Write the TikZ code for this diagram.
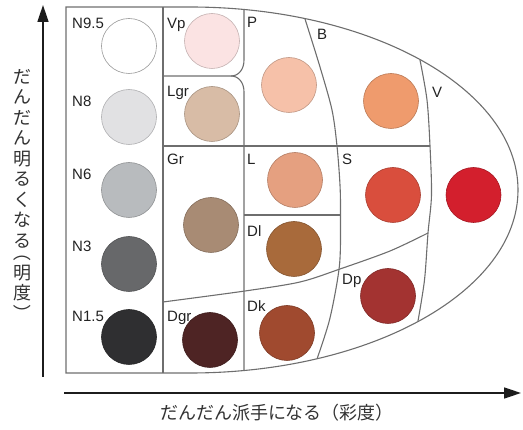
\documentclass[tikz,border=0pt]{standalone}
\usepackage{graphicx}
\usepackage{fontspec}
\setmainfont{Liberation Sans}
\newfontfamily\jp{Noto Sans CJK JP}
\usetikzlibrary{arrows.meta}
\definecolor{linegray}{HTML}{6E6E6E}
\definecolor{labgray}{HTML}{222222}
\definecolor{jpgray}{HTML}{333333}
\definecolor{arrowc}{HTML}{1C1C1C}
\definecolor{cNa}{HTML}{FFFFFF}
\definecolor{cNb}{HTML}{E1E1E3}
\definecolor{cNc}{HTML}{B8BBBE}
\definecolor{cNd}{HTML}{67686A}
\definecolor{cNe}{HTML}{2F2F31}
\definecolor{cVp}{HTML}{FBE3E3}
\definecolor{cLgr}{HTML}{D8BCA6}
\definecolor{cGr}{HTML}{A88B74}
\definecolor{cDgr}{HTML}{4E2424}
\definecolor{cP}{HTML}{F6C1A9}
\definecolor{cL}{HTML}{E5A080}
\definecolor{cDl}{HTML}{A86A3B}
\definecolor{cDk}{HTML}{A04A2F}
\definecolor{cB}{HTML}{EF9B6D}
\definecolor{cS}{HTML}{D94E3D}
\definecolor{cV}{HTML}{D31F2D}
\definecolor{cDp}{HTML}{A33331}
\newcommand{\vparen}[1]{\rotatebox[origin=c]{-90}{#1}}
\begin{document}
\begin{tikzpicture}[x=1pt,y=-1pt,
  box/.style={draw=linegray, line width=1.1pt},
  dot/.style={circle, minimum size=55pt, inner sep=0pt, fill=#1, draw=#1!78!black, line width=0.6pt},
  lab/.style={anchor=base west, inner sep=0pt, text=labgray, font=\fontsize{15}{15}\selectfont},
  axis/.style={draw=arrowc, line width=1.7pt, -{Triangle[length=17pt,width=11pt]}},
  jptext/.style={inner sep=0pt, text=jpgray, font=\jp\fontsize{18}{20.5}\selectfont}]
\useasboundingbox (0,0) rectangle (523,430);

% key coordinates
\coordinate (TL) at (66,7);
\coordinate (TC) at (190,7);
\coordinate (BL) at (66,373);
\coordinate (NcT) at (163,7);
\coordinate (NcB) at (163,373);
\coordinate (GcT) at (244,9.5);
\coordinate (GcB) at (244,370.5);
\coordinate (Btop) at (304.9,18.6);
\coordinate (Bbot) at (317.1,358.7);
\coordinate (Vtop) at (419.9,59.5);
\coordinate (Vbot) at (417.9,321.6);
\coordinate (Hend) at (430,146);
\coordinate (LDend) at (340.5,215);
\coordinate (Dend) at (428,233);

% outer shape
\draw[box] (TL) -- (TC) arc[start angle=-90, end angle=90, x radius=328, y radius=183] -- (BL) -- cycle;

% N column
\draw[box] (NcT) -- (NcB);
% Vp / Lgr / Gr column with notch
\draw[box] (GcT) -- (244,60) .. controls (244,69) and (239,76) .. (231,76) -- (163,76);
\draw[box] (231,76) .. controls (239,76) and (244,83) .. (244,92) -- (GcB);
% horizontal at Gr/L/S top
\draw[box] (163,146) -- (Hend);
% B curve
\draw[box] plot[smooth] coordinates {(Btop) (320,67) (332,110) (337,146) (340,185) (LDend) (339.5,265) (330,318) (Bbot)};
% V curve
\draw[box] plot[smooth] coordinates {(Vtop) (427,100) (Hend) (431.5,195) (Dend) (424.5,280) (Vbot)};
% L / Dl separator
\draw[box] (244,215) -- (LDend);
% dark curve
\draw[box] plot[smooth] coordinates {(163,302) (245,291) (300,282) (340,269) (390,251) (Dend)};

% circles
\node[dot=cNa, draw=black!40] (n95) at (129,46) {};
\node[dot=cNb] (n8) at (129,117) {};
\node[dot=cNc] (n6) at (129,190) {};
\node[dot=cNd] (n3) at (129,264) {};
\node[dot=cNe] (n15) at (129,337) {};
\node[dot=cVp] (vp) at (212,41) {};
\node[dot=cLgr] (lgr) at (212,114) {};
\node[dot=cGr] (gr) at (211,225) {};
\node[dot=cDgr] (dgr) at (210,340) {};
\node[dot=cP] (p) at (289,85) {};
\node[dot=cL] (l) at (295,180) {};
\node[dot=cDl] (dl) at (294,249) {};
\node[dot=cDk] (dk) at (287,333) {};
\node[dot=cB] (b) at (391,101) {};
\node[dot=cS] (s) at (393,195) {};
\node[dot=cDp] (dp) at (388,296) {};
\node[dot=cV] (v) at (473.5,195) {};

% labels
\node[lab] (tn95) at (72,29) {N9.5};
\node[lab] (tn8) at (72,107) {N8};
\node[lab] (tn6) at (72,180) {N6};
\node[lab] (tn3) at (72,252) {N3};
\node[lab] (tn15) at (72,322) {N1.5};
\node[lab] (tvp) at (167,29) {Vp};
\node[lab] (tlgr) at (167,97) {Lgr};
\node[lab] (tgr) at (167,165) {Gr};
\node[lab] (tdgr) at (167,322) {Dgr};
\node[lab] (tp) at (247,28) {P};
\node[lab] (tl) at (247,165) {L};
\node[lab] (tdl) at (247,237) {Dl};
\node[lab] (tdk) at (247,312) {Dk};
\node[lab] (tb) at (317,40) {B};
\node[lab] (ts) at (342,165) {S};
\node[lab] (tv) at (432,98) {V};
\node[lab] (tdp) at (342,285) {Dp};

% axes
\coordinate (vA) at (43,377);
\coordinate (vB) at (43,5);
\coordinate (hA) at (64,393);
\coordinate (hB) at (521,393);
\draw[axis] (vA) -- (vB);
\draw[axis] (hA) -- (hB);

% axis texts
\node[jptext, align=center] (vt) at (22,196) {だ\\ん\\だ\\ん\\明\\る\\く\\な\\る\\[-9pt]\vparen{（}\\明\\度\\\vparen{）}};
\node[jptext] (ht) at (277,413) {だんだん派手になる（彩度）};
\end{tikzpicture}
\end{document}
